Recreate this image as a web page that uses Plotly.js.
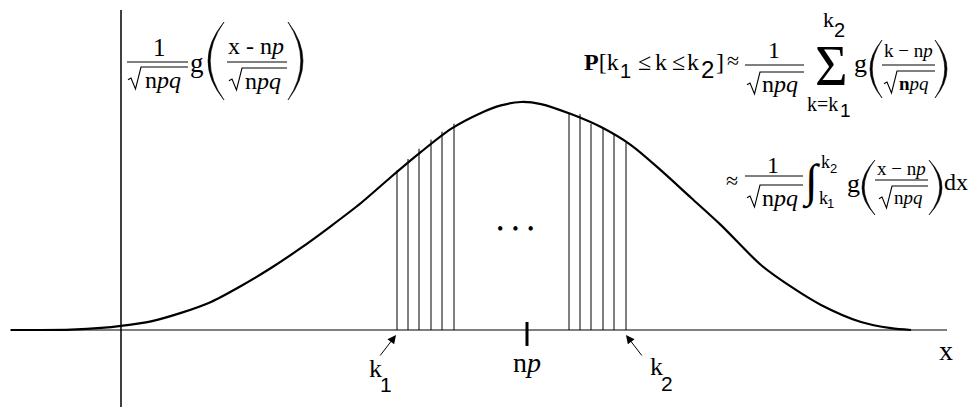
<!DOCTYPE html>
<html>
<head>
<meta charset="utf-8">
<script src="https://cdn.plot.ly/plotly-3.0.1.min.js"></script>
<style>html,body{margin:0;padding:0;background:#fff;}</style>
</head>
<body>
<div id="chart" style="width:972px;height:407px;"></div>
<script>
// Normal approximation to the binomial: density curve g((x-np)/sqrt(npq))/sqrt(npq)
const curveX = [-11, -8, -5, -2, 0, 3, 6, 9, 12, 15, 18, 21, 24, 27, 30, 33, 36, 38, 40,
                42, 45, 48, 51, 54, 57, 60, 64, 67, 70, 74, 77, 79];
const curveY = [0, 0, 0.002, 0.009, 0.018, 0.038, 0.075, 0.123, 0.193, 0.272, 0.36, 0.456,
                0.557, 0.671, 0.781, 0.882, 0.952, 0.985, 1.0, 0.991, 0.947, 0.89, 0.811,
                0.70, 0.58, 0.46, 0.285, 0.19, 0.11, 0.035, 0.008, 0];

// Ordinates at k = k1, k1+1, ... and ..., k2-1, k2
const leftK  = [27.6, 28.7, 29.8, 31.0, 32.1, 33.3];
const leftH  = [0.70, 0.75, 0.795, 0.835, 0.87, 0.905];
const rightK = [44.8, 45.9, 47.0, 48.2, 49.3, 50.5];
const rightH = [0.952, 0.947, 0.904, 0.89, 0.855, 0.82];

const npX = 40.6;                 // mean np
const xAxisSpan = [-11.1, 82.6];  // horizontal axis extent
const yAxisSpan = [-0.34, 1.404]; // vertical axis extent

const X_RANGE = [-12.1, 85.1];
const Y_RANGE = [-0.3377, 1.4474];

const W = 972, H = 407;
const FONT = 'Liberation Serif, Times New Roman, serif';
const SANS = 'Liberation Sans, Arial, sans-serif';

// ordinate segments
function stems(xs, hs) {
  const sx = [], sy = [];
  xs.forEach((x, i) => { sx.push(x, x, null); sy.push(0, hs[i], null); });
  return {sx, sy};
}
const L = stems(leftK, leftH), R = stems(rightK, rightH);

const traces = [
  {x: L.sx, y: L.sy, mode: 'lines', line: {color: '#000', width: 1}, hoverinfo: 'skip'},
  {x: R.sx, y: R.sy, mode: 'lines', line: {color: '#000', width: 1}, hoverinfo: 'skip'},
  {x: curveX, y: curveY, mode: 'lines', line: {color: '#000', width: 2.2, shape: 'spline', smoothing: 0.8}, hoverinfo: 'skip'}
];

// helpers in page pixels -> paper coordinates
const fx = p => p / W, fy = p => 1 - p / H;
const shapes = [], annotations = [];

function text(t, px, py, size, xa, fam) {
  annotations.push({xref: 'paper', yref: 'paper', x: fx(px), y: fy(py), text: t,
    showarrow: false, xanchor: xa || 'center', yanchor: 'middle',
    font: {family: fam || FONT, size: size, color: '#000'}});
}
function hline(x0, x1, y, w) {
  shapes.push({type: 'line', xref: 'paper', yref: 'paper', x0: fx(x0), x1: fx(x1), y0: fy(y), y1: fy(y),
    line: {color: '#000', width: w || 1}});
}
function pathStr(pts) {
  return pts.map((p, i) => (i ? 'L' : 'M') + fx(p[0]).toFixed(5) + ',' + fy(p[1]).toFixed(5)).join(' ');
}
// radical sign with vinculum
function radical(x0, top, bottom, x1) {
  const h = bottom - top;
  shapes.push({type: 'path', xref: 'paper', yref: 'paper', line: {color: '#000', width: 1.1},
    path: pathStr([[x0, top + 0.58 * h], [x0 + 3, top + 0.5 * h], [x0 + 7.5, bottom], [x0 + 13, top], [x1, top]])});
}
// large parenthesis as a filled crescent
function paren(left, right, top, bottom, open) {
  const mid = (top + bottom) / 2, th = 2.2;
  let d;
  if (open) {
    const c1 = 2 * left - right, c2 = 2 * (left + th) - right;
    d = `M${fx(right)},${fy(top)} Q${fx(c1)},${fy(mid)} ${fx(right)},${fy(bottom)} Q${fx(c2)},${fy(mid)} ${fx(right)},${fy(top)} Z`;
  } else {
    const c1 = 2 * right - left, c2 = 2 * (right - th) - left;
    d = `M${fx(left)},${fy(top)} Q${fx(c1)},${fy(mid)} ${fx(left)},${fy(bottom)} Q${fx(c2)},${fy(mid)} ${fx(left)},${fy(top)} Z`;
  }
  shapes.push({type: 'path', xref: 'paper', yref: 'paper', path: d, fillcolor: '#000', line: {color: '#000', width: 0.6}});
}

// axes
shapes.push({type: 'line', xref: 'x', yref: 'y', x0: xAxisSpan[0], x1: xAxisSpan[1], y0: 0, y1: 0, line: {color: '#000', width: 1.2}});
shapes.push({type: 'line', xref: 'x', yref: 'y', x0: 0, x1: 0, y0: yAxisSpan[0], y1: yAxisSpan[1], line: {color: '#000', width: 1.5}});
// tick at the mean
shapes.push({type: 'line', xref: 'x', yref: 'y', x0: npX, x1: npX, y0: 0.035, y1: -0.07, line: {color: '#000', width: 3}});

// axis labels
text('x', 946, 350, 28);
text('n<i>p</i>', 527, 362, 28);
text('k', 375, 368, 26);
text('1', 386, 384, 21, 'center', SANS);
text('k', 656, 366, 26);
text('2', 667, 383, 21, 'center', SANS);

// arrows to k1 and k2
function arrow(hx, hy, ax, ay) {
  annotations.push({xref: 'paper', yref: 'paper', x: fx(hx), y: fy(hy), text: '', showarrow: true,
    ax: ax, ay: ay, arrowhead: 2, arrowsize: 1.7, arrowwidth: 1, arrowcolor: '#000', standoff: 0});
}
arrow(396, 335, -17, 22);
arrow(626, 335, 17, 22);

// ellipsis between the groups
text('\u2022\u2002\u2022\u2002\u2022', 515, 229, 18);

// density label, top left
text('1', 159, 47, 25);
hline(127, 188, 62);
radical(128, 67, 89, 188);
text('n<i>pq</i>', 143, 80, 24, 'left');
text('g', 197, 63, 27);
paren(208, 224, 22, 100, true);
text('x - n<i>p</i>', 256, 46, 24);
hline(227, 287, 62);
radical(229, 68, 90, 287);
text('n<i>pq</i>', 243, 81, 24, 'left');
paren(288, 303, 22, 100, false);

// sum approximation, top right
text('<b>P</b>[k', 582, 62, 24, 'left');
text('1', 625, 71, 20, 'center', SANS);
text('\u2264', 644, 62, 24);
text('k', 661, 62, 24);
text('\u2264', 678, 62, 24);
text('k', 692.5, 62, 24);
text('2', 707, 70, 24, 'center', SANS);
text(']', 720, 62, 24);
text('\u2248', 733, 60, 22);
text('1', 774, 50, 24);
hline(745, 804, 65);
radical(747, 72, 94, 804);
text('n<i>pq</i>', 760, 84, 24, 'left');
text('\u03a3', 831, 66, 56);
text('k', 828, 20, 22);
text('2', 839, 30, 20, 'center', SANS);
text('k=k', 822, 104, 20);
text('1', 845, 110, 19, 'center', SANS);
text('g', 860, 64, 26);
paren(870, 882, 40, 98, true);
text('k \u2212 n<i>p</i>', 908, 51, 19);
hline(882, 935, 65);
radical(884, 71, 93, 935);
text('<b>n</b><i>pq</i>', 897, 84, 19, 'left');
paren(935, 947, 40, 98, false);

// integral approximation
text('\u2248', 732, 181, 22);
text('1', 773, 165, 24);
hline(745, 803, 176);
radical(747, 185, 207, 803);
text('n<i>pq</i>', 760, 198, 24, 'left');
text('\u222b', 811, 182, 46);
text('k', 825, 162, 18);
text('2', 833, 168, 13, 'center', SANS);
text('k', 823, 198, 18);
text('1', 830, 203, 13, 'center', SANS);
text('g', 853, 183, 26);
paren(862, 875, 160, 215, true);
text('x \u2212 n<i>p</i>', 901, 168, 19);
hline(875, 928, 180);
radical(879, 186, 208, 928);
text('n<i>pq</i>', 892, 197, 19, 'left');
paren(929, 942, 160, 215, false);
text('dx', 956, 182, 24);

const layout = {
  width: W, height: H,
  margin: {l: 0, r: 0, t: 0, b: 0},
  paper_bgcolor: '#fff', plot_bgcolor: '#fff',
  showlegend: false,
  xaxis: {range: X_RANGE, visible: false, fixedrange: true},
  yaxis: {range: Y_RANGE, visible: false, fixedrange: true},
  shapes: shapes,
  annotations: annotations
};

Plotly.newPlot('chart', traces, layout, {displayModeBar: false, staticPlot: true});
</script>
</body>
</html>
